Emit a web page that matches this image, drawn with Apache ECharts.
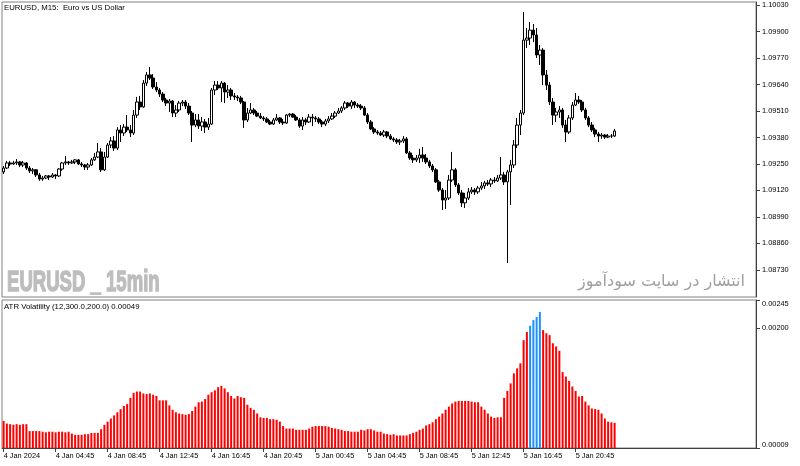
<!DOCTYPE html>
<html>
<head>
<meta charset="utf-8">
<script src="https://cdn.jsdelivr.net/npm/echarts@6/dist/echarts.min.js"></script>
<style>
html, body { margin: 0; padding: 0; background: #fff; }
#main { width: 800px; height: 466px; }
</style>
</head>
<body>
<div id="main"></div>
<script>
// EURUSD M15, 4-5 Jan 2024
var opens = [
  1.09211,1.09230,1.09255,1.09250,1.09255,1.09260,1.09245,1.09255,1.09230,1.09216,
  1.09221,1.09196,1.09176,1.09181,1.09191,1.09186,1.09196,1.09191,1.09225,1.09255,
  1.09260,1.09255,1.09260,1.09270,1.09250,1.09245,1.09235,1.09245,1.09270,1.09284,
  1.09309,1.09221,1.09284,1.09343,1.09363,1.09328,1.09417,1.09402,1.09431,1.09417,
  1.09402,1.09490,1.09554,1.09530,1.09647,1.09687,1.09672,1.09628,1.09613,1.09593,
  1.09564,1.09549,1.09559,1.09500,1.09515,1.09549,1.09554,1.09534,1.09500,1.09441,
  1.09466,1.09436,1.09456,1.09431,1.09446,1.09613,1.09637,1.09623,1.09647,1.09603,
  1.09613,1.09584,1.09579,1.09574,1.09554,1.09466,1.09500,1.09515,1.09500,1.09485,
  1.09476,1.09471,1.09456,1.09446,1.09466,1.09476,1.09456,1.09451,1.09490,1.09495,
  1.09480,1.09466,1.09436,1.09466,1.09456,1.09480,1.09476,1.09471,1.09456,1.09446,
  1.09461,1.09471,1.09485,1.09500,1.09510,1.09525,1.09549,1.09534,1.09554,1.09539,
  1.09534,1.09525,1.09490,1.09456,1.09422,1.09407,1.09402,1.09392,1.09407,1.09387,
  1.09373,1.09368,1.09358,1.09363,1.09373,1.09304,1.09279,1.09270,1.09279,1.09294,
  1.09279,1.09260,1.09240,1.09221,1.09162,1.09122,1.09073,1.09083,1.09171,1.09221,
  1.09147,1.09108,1.09059,1.09083,1.09113,1.09122,1.09113,1.09132,1.09142,1.09157,
  1.09152,1.09171,1.09167,1.09181,1.09196,1.09162,1.09211,1.09245,1.09343,1.09441,
  1.09500,1.09858,1.09868,1.09907,1.09883,1.09785,1.09809,1.09687,1.09637,1.09554,
  1.09490,1.09505,1.09515,1.09441,1.09407,1.09476,1.09539,1.09564,1.09554,1.09515,
  1.09476,1.09441,1.09417,1.09397,1.09387,1.09392,1.09382,1.09387,1.09387
];
var closes = [
  1.09230,1.09255,1.09250,1.09255,1.09260,1.09245,1.09255,1.09230,1.09216,1.09221,
  1.09196,1.09176,1.09181,1.09191,1.09186,1.09196,1.09191,1.09225,1.09255,1.09260,
  1.09255,1.09260,1.09270,1.09250,1.09245,1.09235,1.09245,1.09270,1.09284,1.09309,
  1.09221,1.09284,1.09343,1.09363,1.09328,1.09417,1.09402,1.09431,1.09417,1.09402,
  1.09490,1.09554,1.09530,1.09647,1.09687,1.09672,1.09628,1.09613,1.09593,1.09564,
  1.09549,1.09559,1.09500,1.09515,1.09549,1.09554,1.09534,1.09500,1.09441,1.09466,
  1.09436,1.09456,1.09431,1.09446,1.09613,1.09637,1.09623,1.09647,1.09603,1.09613,
  1.09584,1.09579,1.09574,1.09554,1.09466,1.09500,1.09515,1.09500,1.09485,1.09476,
  1.09471,1.09456,1.09446,1.09466,1.09476,1.09456,1.09451,1.09490,1.09495,1.09480,
  1.09466,1.09436,1.09466,1.09456,1.09480,1.09476,1.09471,1.09456,1.09446,1.09461,
  1.09471,1.09485,1.09500,1.09510,1.09525,1.09549,1.09534,1.09554,1.09539,1.09534,
  1.09525,1.09490,1.09456,1.09422,1.09407,1.09402,1.09392,1.09407,1.09387,1.09373,
  1.09368,1.09358,1.09363,1.09373,1.09304,1.09279,1.09270,1.09279,1.09294,1.09279,
  1.09260,1.09240,1.09221,1.09162,1.09122,1.09073,1.09083,1.09171,1.09221,1.09147,
  1.09108,1.09059,1.09083,1.09113,1.09122,1.09113,1.09132,1.09142,1.09157,1.09152,
  1.09171,1.09167,1.09181,1.09196,1.09162,1.09211,1.09245,1.09343,1.09441,1.09500,
  1.09858,1.09868,1.09907,1.09883,1.09785,1.09809,1.09687,1.09637,1.09554,1.09490,
  1.09505,1.09515,1.09441,1.09407,1.09476,1.09539,1.09564,1.09554,1.09515,1.09476,
  1.09441,1.09417,1.09397,1.09387,1.09392,1.09382,1.09387,1.09387,1.09412
];
var lows = [
  1.09201,1.09225,1.09240,1.09245,1.09245,1.09235,1.09235,1.09221,1.09206,1.09201,
  1.09186,1.09167,1.09167,1.09176,1.09171,1.09181,1.09176,1.09186,1.09216,1.09245,
  1.09245,1.09250,1.09250,1.09245,1.09235,1.09221,1.09221,1.09240,1.09265,1.09279,
  1.09211,1.09216,1.09279,1.09328,1.09314,1.09319,1.09358,1.09387,1.09407,1.09382,
  1.09392,1.09476,1.09515,1.09525,1.09633,1.09662,1.09618,1.09603,1.09579,1.09554,
  1.09534,1.09505,1.09480,1.09480,1.09505,1.09534,1.09520,1.09490,1.09358,1.09431,
  1.09422,1.09412,1.09402,1.09417,1.09441,1.09588,1.09613,1.09554,1.09549,1.09574,
  1.09564,1.09564,1.09559,1.09544,1.09427,1.09456,1.09495,1.09490,1.09480,1.09471,
  1.09461,1.09451,1.09441,1.09441,1.09461,1.09446,1.09441,1.09446,1.09480,1.09476,
  1.09461,1.09427,1.09417,1.09441,1.09451,1.09436,1.09456,1.09446,1.09431,1.09436,
  1.09451,1.09466,1.09476,1.09495,1.09500,1.09515,1.09525,1.09520,1.09525,1.09525,
  1.09515,1.09485,1.09446,1.09417,1.09397,1.09392,1.09387,1.09382,1.09377,1.09368,
  1.09358,1.09348,1.09343,1.09353,1.09299,1.09270,1.09255,1.09260,1.09255,1.09260,
  1.09250,1.09230,1.09211,1.09157,1.09113,1.09024,1.09029,1.09073,1.09162,1.09137,
  1.09098,1.09039,1.09034,1.09073,1.09103,1.09098,1.09103,1.09122,1.09127,1.09142,
  1.09137,1.09157,1.09162,1.09171,1.09147,1.08764,1.09049,1.09230,1.09328,1.09392,
  1.09490,1.09819,1.09834,1.09848,1.09770,1.09736,1.09637,1.09613,1.09539,1.09441,
  1.09456,1.09476,1.09427,1.09358,1.09397,1.09466,1.09534,1.09544,1.09505,1.09466,
  1.09431,1.09407,1.09382,1.09358,1.09373,1.09373,1.09377,1.09377,1.09382
];
var highs = [
  1.09240,1.09265,1.09265,1.09265,1.09274,1.09265,1.09265,1.09260,1.09240,1.09230,
  1.09225,1.09206,1.09191,1.09196,1.09196,1.09206,1.09201,1.09230,1.09260,1.09289,
  1.09265,1.09270,1.09274,1.09274,1.09260,1.09250,1.09255,1.09279,1.09304,1.09353,
  1.09328,1.09309,1.09353,1.09382,1.09387,1.09431,1.09441,1.09446,1.09490,1.09441,
  1.09515,1.09579,1.09584,1.09662,1.09701,1.09726,1.09691,1.09652,1.09623,1.09603,
  1.09574,1.09569,1.09564,1.09539,1.09559,1.09564,1.09564,1.09549,1.09510,1.09495,
  1.09495,1.09480,1.09471,1.09476,1.09623,1.09657,1.09657,1.09657,1.09652,1.09637,
  1.09623,1.09598,1.09588,1.09584,1.09559,1.09525,1.09549,1.09525,1.09510,1.09500,
  1.09485,1.09480,1.09466,1.09476,1.09495,1.09480,1.09471,1.09495,1.09500,1.09500,
  1.09490,1.09476,1.09480,1.09476,1.09495,1.09495,1.09485,1.09480,1.09466,1.09471,
  1.09485,1.09500,1.09510,1.09525,1.09534,1.09559,1.09554,1.09564,1.09559,1.09549,
  1.09544,1.09534,1.09500,1.09466,1.09431,1.09417,1.09412,1.09417,1.09412,1.09397,
  1.09382,1.09377,1.09373,1.09387,1.09382,1.09314,1.09294,1.09294,1.09324,1.09333,
  1.09299,1.09270,1.09250,1.09230,1.09171,1.09132,1.09122,1.09196,1.09309,1.09230,
  1.09157,1.09122,1.09108,1.09132,1.09137,1.09132,1.09142,1.09162,1.09167,1.09171,
  1.09181,1.09186,1.09196,1.09284,1.09211,1.09221,1.09270,1.09368,1.09476,1.09515,
  1.09996,1.09917,1.09947,1.09937,1.09917,1.09834,1.09819,1.09711,1.09652,1.09574,
  1.09525,1.09534,1.09525,1.09466,1.09490,1.09554,1.09598,1.09584,1.09564,1.09525,
  1.09485,1.09456,1.09427,1.09407,1.09402,1.09397,1.09397,1.09397,1.09422
];
// ATR Volatility (12,300.0,200.0)
var atr = [
  0.00052,0.00048,0.00047,0.00046,0.00047,0.00046,0.00047,0.00047,0.00036,0.00036,
  0.00036,0.00036,0.00035,0.00034,0.00035,0.00035,0.00034,0.00035,0.00035,0.00034,
  0.00035,0.00032,0.00030,0.00030,0.00030,0.00031,0.00031,0.00033,0.00033,0.00033,
  0.00039,0.00046,0.00051,0.00056,0.00061,0.00066,0.00071,0.00076,0.00079,0.00089,
  0.00097,0.00099,0.00099,0.00096,0.00095,0.00096,0.00094,0.00092,0.00085,0.00085,
  0.00085,0.00077,0.00070,0.00066,0.00064,0.00063,0.00062,0.00063,0.00068,0.00075,
  0.00082,0.00083,0.00087,0.00094,0.00098,0.00101,0.00106,0.00108,0.00104,0.00098,
  0.00092,0.00088,0.00092,0.00090,0.00089,0.00078,0.00073,0.00070,0.00064,0.00058,
  0.00057,0.00057,0.00055,0.00055,0.00054,0.00051,0.00044,0.00040,0.00040,0.00040,
  0.00038,0.00038,0.00038,0.00038,0.00040,0.00043,0.00044,0.00044,0.00044,0.00044,
  0.00043,0.00041,0.00040,0.00039,0.00038,0.00036,0.00036,0.00035,0.00035,0.00035,
  0.00038,0.00037,0.00039,0.00039,0.00037,0.00035,0.00035,0.00032,0.00031,0.00030,
  0.00031,0.00029,0.00029,0.00029,0.00029,0.00031,0.00033,0.00035,0.00038,0.00040,
  0.00045,0.00047,0.00050,0.00055,0.00059,0.00064,0.00070,0.00075,0.00080,0.00083,
  0.00084,0.00084,0.00084,0.00084,0.00083,0.00082,0.00082,0.00075,0.00070,0.00064,
  0.00059,0.00057,0.00058,0.00058,0.00089,0.00100,0.00112,0.00128,0.00136,0.00144,
  0.00181,0.00194,0.00204,0.00213,0.00218,0.00226,0.00197,0.00192,0.00189,0.00176,
  0.00171,0.00164,0.00130,0.00123,0.00116,0.00107,0.00100,0.00091,0.00092,0.00083,
  0.00077,0.00072,0.00071,0.00070,0.00064,0.00056,0.00051,0.00050,0.00049
];
var atrLevel = 0.00200;
var priceTicks = [1.08730, 1.08860, 1.08990, 1.09120, 1.09250, 1.09380, 1.09510, 1.09640, 1.09770, 1.09900, 1.10030];
var atrTicks = [0.00009, 0.00200, 0.00245];
var timeLabels = ['4 Jan 2024', '4 Jan 04:45', '4 Jan 08:45', '4 Jan 12:45', '4 Jan 16:45', '4 Jan 20:45',
  '5 Jan 00:45', '5 Jan 04:45', '5 Jan 08:45', '5 Jan 12:45', '5 Jan 16:45', '5 Jan 20:45'];

var slots = 232;      // visible bar slots incl. empty right margin
var labelStep = 16;   // one time label every 16 bars (4 hours)
var cats = [];
for (var i = 0; i < slots; i++) cats.push(String(i));

var candles = opens.map(function (o, i) { return [o, closes[i], lows[i], highs[i]]; });
var atrBars = atr.map(function (v) {
  return { value: v, itemStyle: { color: v > atrLevel ? '#1E90FF' : '#FF0000' } };
});

function isTimeTick(idx) {
  return idx % labelStep === 0 && idx / labelStep < timeLabels.length;
}

var axisFont = 'Liberation Sans';
var chart = echarts.init(document.getElementById('main'));
chart.setOption({
  animation: false,
  backgroundColor: '#ffffff',
  textStyle: { fontFamily: axisFont },
  grid: [
    { left: 2, top: 2, width: 754, height: 295, show: true, borderColor: '#808080', borderWidth: 1 },
    { left: 2, top: 300, width: 754, height: 148, show: true, borderColor: '#808080', borderWidth: 1 }
  ],
  xAxis: [
    {
      type: 'category', gridIndex: 0, data: cats, boundaryGap: true,
      axisLine: { show: false }, axisTick: { show: false }, axisLabel: { show: false }, splitLine: { show: false }
    },
    {
      type: 'category', gridIndex: 1, data: cats, boundaryGap: true,
      axisLine: { show: true, lineStyle: { color: '#404040', width: 1 } },
      axisTick: { show: true, alignWithLabel: true, length: 4, interval: isTimeTick, lineStyle: { color: '#404040' } },
      axisLabel: {
        interval: isTimeTick, align: 'left', margin: 4, fontSize: 7.4, color: '#000', fontFamily: axisFont,
        formatter: function (v, idx) { return isTimeTick(idx) ? timeLabels[idx / labelStep] : ''; }
      },
      splitLine: { show: false }
    }
  ],
  yAxis: [
    {
      type: 'value', gridIndex: 0, position: 'right', min: 1.08597, max: 1.10045, scale: true,
      axisLine: { show: true, lineStyle: { color: '#404040' } },
      axisTick: { show: true, length: 4, customValues: priceTicks, lineStyle: { color: '#404040' } },
      axisLabel: {
        customValues: priceTicks, margin: 6, fontSize: 7.4, color: '#000', fontFamily: axisFont,
        formatter: function (v) { return v.toFixed(5); }
      },
      splitLine: { show: false }
    },
    {
      type: 'value', gridIndex: 1, position: 'right', min: 0.00009, max: 0.00245,
      axisLine: { show: true, lineStyle: { color: '#404040' } },
      axisTick: { show: true, length: 4, customValues: atrTicks, lineStyle: { color: '#404040' } },
      axisLabel: {
        customValues: atrTicks, margin: 6, fontSize: 7.4, color: '#000', fontFamily: axisFont,
        verticalAlignMinLabel: 'bottom', verticalAlignMaxLabel: 'top',
        formatter: function (v) { return v.toFixed(5); }
      },
      splitLine: { show: false }
    }
  ],
  graphic: [
    {
      type: 'text', x: 4, y: 8, silent: true,
      style: { text: 'EURUSD, M15:  Euro vs US Dollar', font: '7.8px "Liberation Sans"', fill: '#000',
        align: 'left', verticalAlign: 'middle' }
    },
    {
      type: 'text', x: 7, y: 283, scaleX: 0.64, silent: true,
      style: { text: 'EURUSD _ 15min', font: 'bold 29px "Liberation Sans"', fill: '#BDBDBD',
        stroke: '#BDBDBD', lineWidth: 1.5, align: 'left', verticalAlign: 'middle' }
    },
    {
      type: 'text', x: 745, y: 282, silent: true,
      style: { text: 'انتشار در سایت سودآموز', font: '16px "DejaVu Sans"', fill: '#A0A0A0',
        align: 'right', verticalAlign: 'middle' }
    },
    {
      type: 'text', x: 4, y: 307, silent: true,
      style: { text: 'ATR Volatility (12,300.0,200.0) 0.00049', font: '7.8px "Liberation Sans"', fill: '#000',
        align: 'left', verticalAlign: 'middle' }
    }
  ],
  series: [
    {
      name: 'EURUSD', type: 'candlestick', xAxisIndex: 0, yAxisIndex: 0,
      data: candles, barWidth: 3,
      itemStyle: { color: '#ffffff', color0: '#000000', borderColor: '#000000', borderColor0: '#000000', borderWidth: 1 }
    },
    {
      name: 'ATR Volatility', type: 'bar', xAxisIndex: 1, yAxisIndex: 1,
      data: atrBars, barWidth: 2,
      markLine: {
        silent: true, symbol: ['none', 'none'], label: { show: false },
        lineStyle: { color: '#F4866C', type: [3, 2], width: 1 },
        data: [{ yAxis: atrLevel }]
      }
    }
  ]
});
</script>
</body>
</html>
